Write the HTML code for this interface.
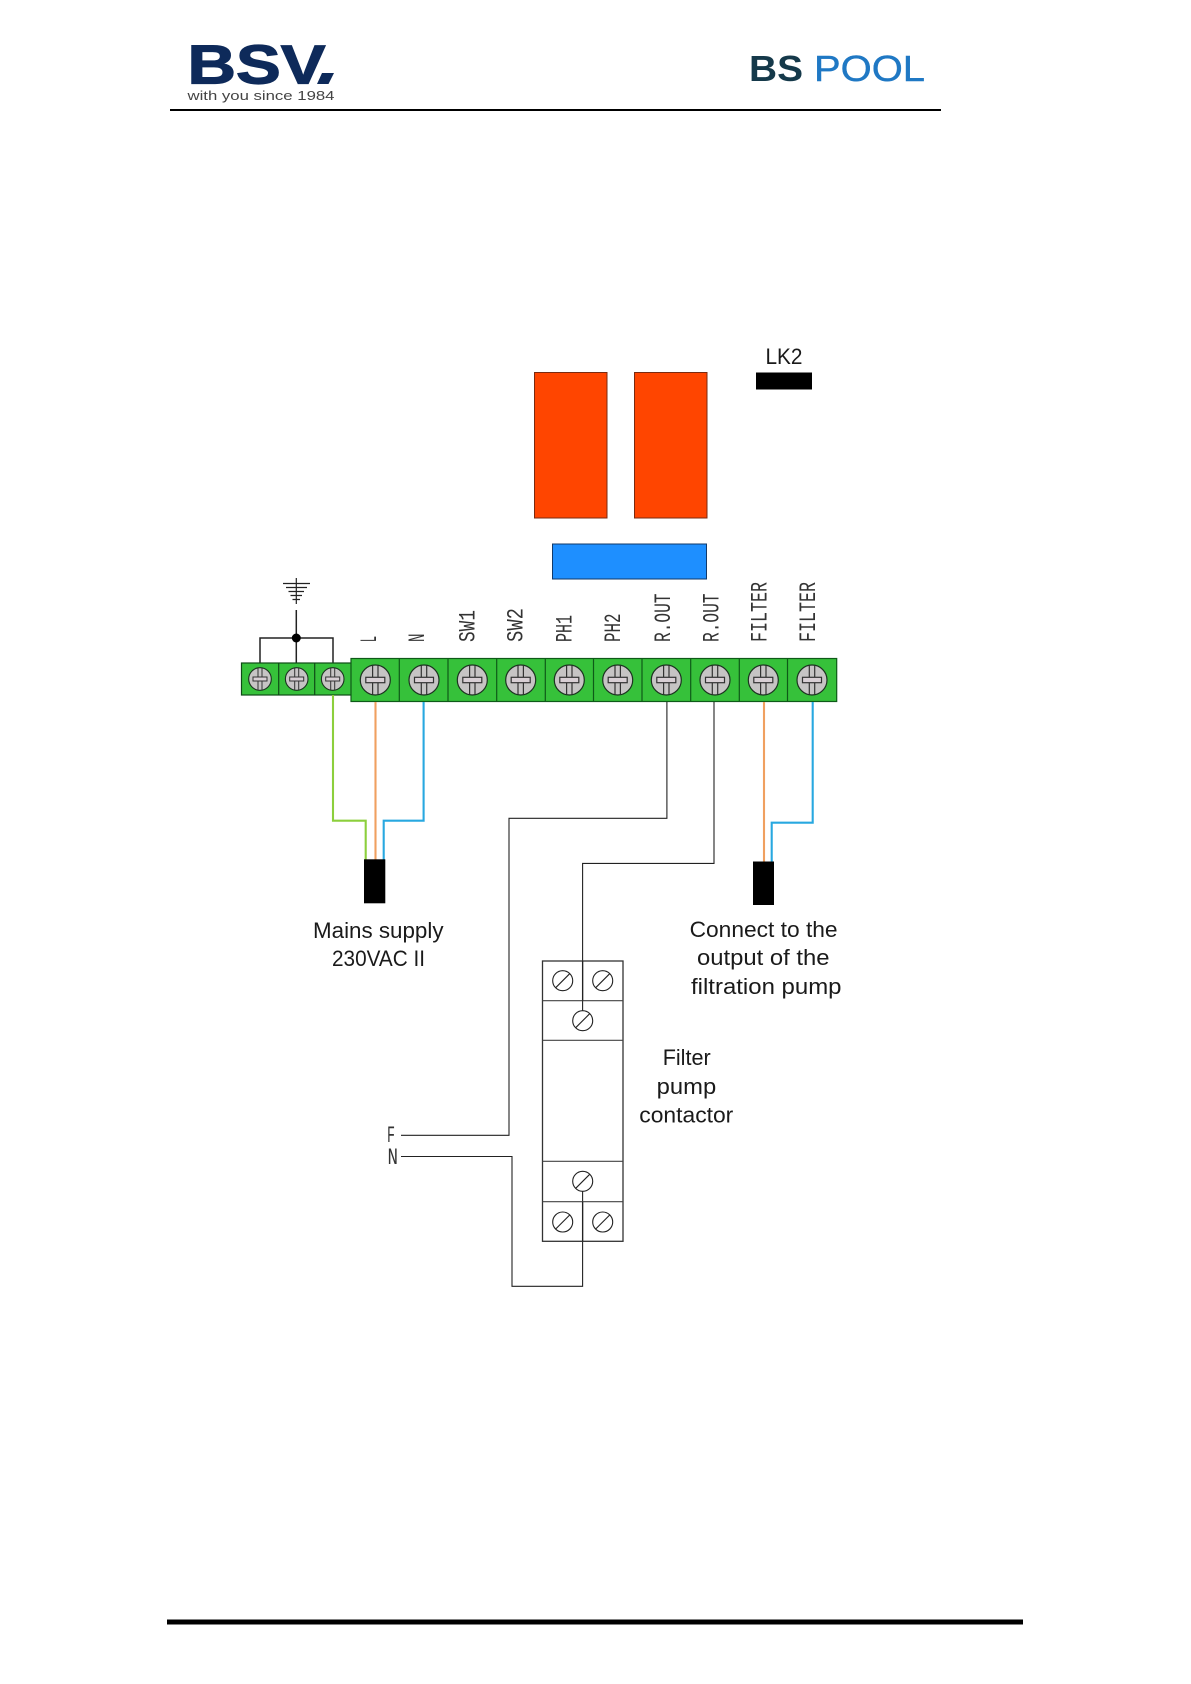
<!DOCTYPE html>
<html lang="en">
<head>
<meta charset="utf-8">
<title>Wiring diagram</title>
<style>
html,body{margin:0;padding:0;background:#fff;}
svg{display:block;}
.t{font-family:"Liberation Sans",sans-serif;font-size:22px;fill:#1a1a1a;}
.m{font-family:"Liberation Mono",monospace;font-size:23px;fill:#333;}
.w{fill:none;stroke-width:2.1;}
</style>
</head>
<body>
<svg xmlns="http://www.w3.org/2000/svg" width="1191" height="1684" viewBox="0 0 1191 1684">
<defs>
  <g id="sc">
    <circle r="15" fill="#c6c4c4" stroke="#1c3320" stroke-width="1.2"/>
    <path d="M-2.7,-14.5V14.5M2.7,-14.5V14.5" stroke="#333" stroke-width="1.2" fill="none"/>
    <rect x="-9.5" y="-2.7" width="19" height="5.4" fill="#d8cfd4" stroke="#333" stroke-width="1.2"/>
  </g>
  <g id="ss">
    <circle r="11.3" fill="#c6c4c4" stroke="#1c3320" stroke-width="1.1"/>
    <path d="M-2,-11V11M2,-11V11" stroke="#333" stroke-width="1" fill="none"/>
    <rect x="-7" y="-2" width="14" height="4" fill="#d8cfd4" stroke="#333" stroke-width="1"/>
  </g>
  <g id="cs">
    <circle r="10" fill="#fff" stroke="#222" stroke-width="1.1"/>
    <path d="M-7,7L7,-7" stroke="#222" stroke-width="1.1"/>
  </g>
</defs>

<!-- Header -->
<text x="187.5" y="83.5" font-family="Liberation Sans, sans-serif" font-weight="700" font-size="55" fill="#0e2a5a" stroke="#0e2a5a" stroke-width="1.2" textLength="138" lengthAdjust="spacingAndGlyphs">BSV</text>
<polygon points="322,73 334,73 328.5,84 317,84" fill="#0e2a5a"/>
<text x="187.5" y="100" font-family="Liberation Sans, sans-serif" font-size="13" fill="#444" textLength="147" lengthAdjust="spacingAndGlyphs">with you since 1984</text>
<text x="749" y="81" font-family="Liberation Sans, sans-serif" font-weight="700" font-size="36" fill="#15394a" textLength="54" lengthAdjust="spacingAndGlyphs">BS</text>
<text x="814" y="81" font-family="Liberation Sans, sans-serif" font-size="36" fill="#1f78c4" stroke="#1f78c4" stroke-width="0.4" textLength="111" lengthAdjust="spacingAndGlyphs">POOL</text>
<rect x="170" y="109" width="771" height="2" fill="#000"/>

<!-- Relays, block, LK2 -->
<rect x="534.5" y="372.5" width="72.5" height="145.5" fill="#ff4500" stroke="#7a2a10" stroke-width="1"/>
<rect x="634.5" y="372.5" width="72.5" height="145.5" fill="#ff4500" stroke="#7a2a10" stroke-width="1"/>
<rect x="552.5" y="544" width="154" height="35" fill="#1e8fff" stroke="#123a6a" stroke-width="1"/>
<rect x="756" y="372.5" width="56" height="17" fill="#000"/>
<text class="t" x="765.5" y="364" textLength="37" lengthAdjust="spacingAndGlyphs">LK2</text>

<!-- Earth symbol -->
<g stroke="#222" stroke-width="1.2" fill="none">
  <path d="M296.3,578V604"/>
  <path d="M283,583.5H310M286,587.5H307M288.5,591.5H304M290.5,595.5H302M292.5,599.5H300"/>
  <path d="M296.3,610V663" stroke-width="1.5"/>
  <path d="M260,663V638H333V663" stroke-width="1.5"/>
</g>
<circle cx="296.3" cy="638" r="4.5" fill="#000"/>

<!-- Small terminal strip -->
<rect x="241.5" y="663" width="110" height="32" fill="#36c13a" stroke="#0e4a16" stroke-width="1.2"/>
<path d="M278.7,663V695M314.7,663V695" stroke="#0e4a16" stroke-width="1.2"/>
<use href="#ss" x="260" y="679"/>
<use href="#ss" x="296.7" y="679"/>
<use href="#ss" x="332.7" y="679"/>

<!-- Large terminal strip -->
<rect x="351" y="658.5" width="485.7" height="43" fill="#36c13a" stroke="#0e5a18" stroke-width="1.2"/>
<path d="M399.3,658.5V701.5M448,658.5V701.5M496.7,658.5V701.5M545.3,658.5V701.5M593.5,658.5V701.5M642,658.5V701.5M690.7,658.5V701.5M739.3,658.5V701.5M787.5,658.5V701.5" stroke="#0e5a18" stroke-width="1.2"/>
<use href="#sc" x="375.3" y="680"/>
<use href="#sc" x="424" y="680"/>
<use href="#sc" x="472.3" y="680"/>
<use href="#sc" x="520.7" y="680"/>
<use href="#sc" x="569.3" y="680"/>
<use href="#sc" x="617.7" y="680"/>
<use href="#sc" x="666.3" y="680"/>
<use href="#sc" x="715" y="680"/>
<use href="#sc" x="763.3" y="680"/>
<use href="#sc" x="812" y="680"/>

<!-- Rotated labels -->
<text class="m" transform="translate(376,642) rotate(-90)" textLength="6" lengthAdjust="spacingAndGlyphs">L</text>
<text class="m" transform="translate(424,642) rotate(-90)" textLength="8.5" lengthAdjust="spacingAndGlyphs">N</text>
<text class="m" transform="translate(474.3,642) rotate(-90)" textLength="32" lengthAdjust="spacingAndGlyphs">SW1</text>
<text class="m" transform="translate(522.7,642) rotate(-90)" textLength="34" lengthAdjust="spacingAndGlyphs">SW2</text>
<text class="m" transform="translate(571.5,642) rotate(-90)" textLength="27" lengthAdjust="spacingAndGlyphs">PH1</text>
<text class="m" transform="translate(620,642) rotate(-90)" textLength="28.5" lengthAdjust="spacingAndGlyphs">PH2</text>
<text class="m" transform="translate(670,642) rotate(-90)" textLength="48.5" lengthAdjust="spacingAndGlyphs">R.OUT</text>
<text class="m" transform="translate(718.3,642) rotate(-90)" textLength="48.5" lengthAdjust="spacingAndGlyphs">R.OUT</text>
<text class="m" transform="translate(766.5,642) rotate(-90)" textLength="60" lengthAdjust="spacingAndGlyphs">FILTER</text>
<text class="m" transform="translate(815,642) rotate(-90)" textLength="60" lengthAdjust="spacingAndGlyphs">FILTER</text>

<!-- Coloured wires -->
<path class="w" d="M333,695V820.7H365.7V860" stroke="#8ccf3c"/>
<path class="w" d="M375.5,702V860" stroke="#f0a060"/>
<path class="w" d="M423.6,702V820.7H383.7V860" stroke="#28a8e0"/>
<path class="w" d="M764,702V862" stroke="#f0a060"/>
<path class="w" d="M812.7,702V822.7H771.7V862" stroke="#28a8e0"/>
<rect x="364" y="859.3" width="21.3" height="44" fill="#000"/>
<rect x="753" y="861.5" width="21" height="43.5" fill="#000"/>

<!-- Black wires -->
<g fill="none" stroke="#222" stroke-width="1.1">
  <path d="M666.9,702V818.3H509V1135.3H401"/>
  <path d="M714,702V863.4H582.6V1020"/>
  <path d="M401,1156.5H512V1286.3H582.6V1181"/>
</g>

<!-- Contactor -->
<rect x="542.5" y="961" width="80.5" height="280.3" fill="none" stroke="#333" stroke-width="1.3"/>
<path d="M542.5,1000.7H623M542.5,1040.3H623M542.5,1161.3H623M542.5,1201.7H623" stroke="#444" stroke-width="1.2" fill="none"/>
<path d="M582.6,961V1000.7M582.6,1201.7V1241.3" stroke="#222" stroke-width="1.3" fill="none"/>
<use href="#cs" x="562.7" y="980.7"/>
<use href="#cs" x="602.7" y="980.7"/>
<use href="#cs" x="582.7" y="1020.7"/>
<use href="#cs" x="582.7" y="1181.3"/>
<use href="#cs" x="562.7" y="1222"/>
<use href="#cs" x="602.7" y="1222"/>

<!-- F / N -->
<text class="m" x="387" y="1142" textLength="8" lengthAdjust="spacingAndGlyphs">F</text>
<text class="m" x="387.5" y="1164" textLength="10.5" lengthAdjust="spacingAndGlyphs">N</text>

<!-- Text labels -->
<text class="t" x="313" y="938" textLength="130.5" lengthAdjust="spacingAndGlyphs">Mains supply</text>
<text class="t" x="332" y="966" textLength="93" lengthAdjust="spacingAndGlyphs">230VAC II</text>
<text class="t" x="689.6" y="937" textLength="148" lengthAdjust="spacingAndGlyphs">Connect to the</text>
<text class="t" x="697" y="965" textLength="132.5" lengthAdjust="spacingAndGlyphs">output of the</text>
<text class="t" x="691" y="994" textLength="150.5" lengthAdjust="spacingAndGlyphs">filtration pump</text>
<text class="t" x="662.7" y="1065" textLength="48" lengthAdjust="spacingAndGlyphs">Filter</text>
<text class="t" x="656.7" y="1094" textLength="59.5" lengthAdjust="spacingAndGlyphs">pump</text>
<text class="t" x="639.3" y="1122.7" textLength="94" lengthAdjust="spacingAndGlyphs">contactor</text>

<!-- Footer bar -->
<rect x="167" y="1619.5" width="856" height="5" fill="#000"/>
</svg>
</body>
</html>
